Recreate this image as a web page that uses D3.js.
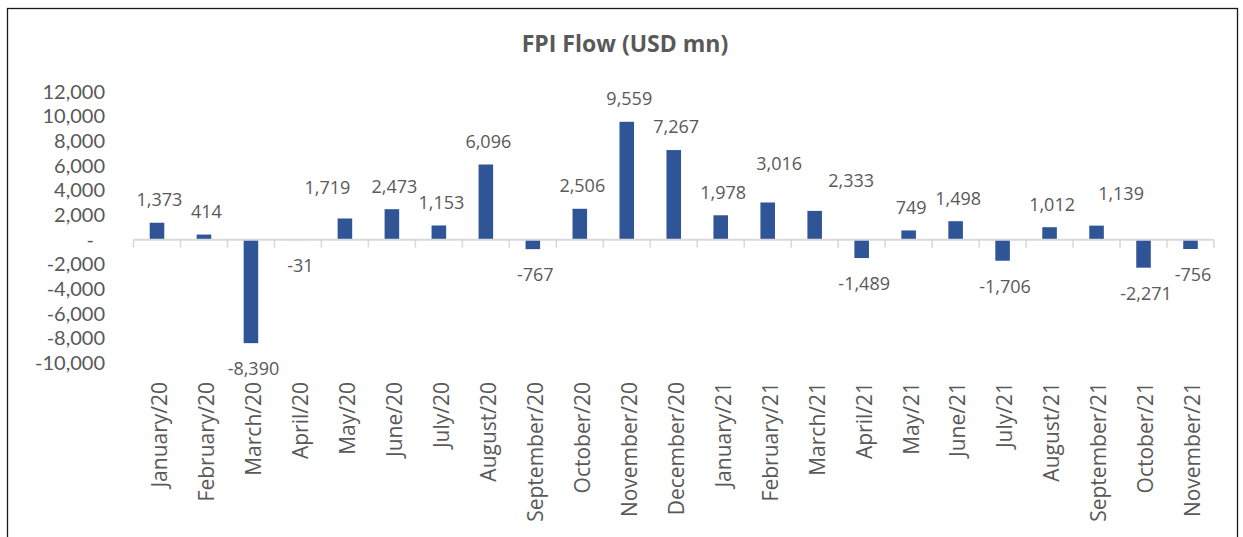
<!DOCTYPE html>
<html>
<head>
<meta charset="utf-8">
<script src="https://cdn.jsdelivr.net/npm/d3@7"></script>
<style>
  html, body { margin: 0; padding: 0; background: #ffffff; }
  svg { display: block; font-family: "Open Sans", "Noto Sans", sans-serif; }
</style>
</head>
<body>
<svg id="chart" width="1243" height="537"></svg>
<script>
// ---- data ----
const months = ["January/20","February/20","March/20","April/20","May/20","June/20","July/20","August/20","September/20","October/20","November/20","December/20","January/21","February/21","March/21","April/21","May/21","June/21","July/21","August/21","September/21","October/21","November/21"];
const fpiFlow = [1373, 414, -8390, -31, 1719, 2473, 1153, 6096, -767, 2506, 9559, 7267, 1978, 3016, 2333, -1489, 749, 1498, -1706, 1012, 1139, -2271, -756];
const yTicks = [-10000, -8000, -6000, -4000, -2000, 0, 2000, 4000, 6000, 8000, 10000, 12000];
const chartTitle = "FPI Flow (USD mn)";

// ---- layout (manual data label nudges as placed in the original, px) ----
const labelNudges = { "May/20": [-20, -8], "February/21": [9, -16], "March/21": [34, -7], "September/21": [22, -9] };

const svg = d3.select("#chart");
const W = 1243, H = 537;
const textColor = "#595959";
const barColor = "#2F5597";
const axisColor = "#D9D9D9";

svg.append("rect").attr("width", W).attr("height", H).attr("fill", "#fff");
svg.append("rect").attr("x", 7.5).attr("y", 8.5).attr("width", 1230).attr("height", 560)
  .attr("fill", "none").attr("stroke", "#1a1a1a").attr("stroke-width", 1.3);

const fmt = d3.formatLocale({decimal: ".", thousands: ",", grouping: [3], currency: ["", ""], minus: "-"}).format(",");

const x = d3.scaleBand().domain(months).range([133.5, 1214]).paddingInner(0.69).paddingOuter(0.345);
const y = d3.scaleLinear().domain([-10000, 12000]).range([363, 91.7]);
const cx = m => x(m) + x.bandwidth() / 2;

// title
svg.append("text").attr("x", 625).attr("y", 51.5).attr("text-anchor", "middle")
  .attr("font-size", 23).attr("font-weight", 700).attr("fill", textColor).text(chartTitle);

// y axis labels
const yAxis = svg.append("g").attr("transform", "translate(105,0)")
  .call(d3.axisLeft(y).tickValues(yTicks).tickSize(0).tickPadding(0)
    .tickFormat(d => d === 0 ? "-" : fmt(d)));
yAxis.select(".domain").remove();
yAxis.selectAll("text").attr("font-size", 20).attr("fill", textColor)
  .attr("font-family", "Lato, 'Open Sans', sans-serif")
  .attr("dx", d => d === 0 ? -11 : 0);

// bars
svg.append("g").selectAll("rect").data(months).join("rect")
  .attr("x", m => x(m))
  .attr("width", x.bandwidth())
  .attr("y", (m, i) => Math.min(y(fpiFlow[i]), y(0)))
  .attr("height", (m, i) => Math.abs(y(fpiFlow[i]) - y(0)))
  .attr("fill", barColor);

// x axis line + boundary ticks
const step = x.step();
const bounds = months.map(m => cx(m) - step / 2).concat([cx(months[months.length - 1]) + step / 2]);
const xg = svg.append("g");
xg.append("line").attr("x1", bounds[0]).attr("x2", bounds[bounds.length - 1])
  .attr("y1", y(0)).attr("y2", y(0)).attr("stroke", axisColor).attr("stroke-width", 2);
xg.selectAll("line.tk").data(bounds).join("line").attr("class", "tk")
  .attr("x1", d => d).attr("x2", d => d).attr("y1", y(0)).attr("y2", y(0) + 8)
  .attr("stroke", axisColor).attr("stroke-width", 1.6);

// x axis labels
const xAxis = svg.append("g").attr("transform", `translate(0,${y(0)})`)
  .call(d3.axisBottom(x).tickSize(0).tickPadding(0));
xAxis.select(".domain").remove();
xAxis.selectAll("text")
  .attr("font-size", 21).attr("fill", textColor)
  .attr("font-family", "'Open Sans', sans-serif")
  .attr("transform", "rotate(-90)")
  .attr("text-anchor", "end")
  .attr("x", -(382 - y(0)))
  .attr("y", 2.5)
  .attr("dy", "0.35em");

// data labels
svg.append("g").selectAll("text").data(months).join("text")
  .attr("x", (m, i) => cx(m) + 2.5 + (labelNudges[m] ? labelNudges[m][0] : 0))
  .attr("y", (m, i) => {
    const v = fpiFlow[i];
    const base = v >= 0 ? y(v) - 16.6 : y(v) + 32;
    return base + (labelNudges[m] ? labelNudges[m][1] : 0);
  })
  .attr("text-anchor", "middle")
  .attr("font-size", 18).attr("fill", textColor)
  .text((m, i) => fmt(fpiFlow[i]));
</script>
</body>
</html>
